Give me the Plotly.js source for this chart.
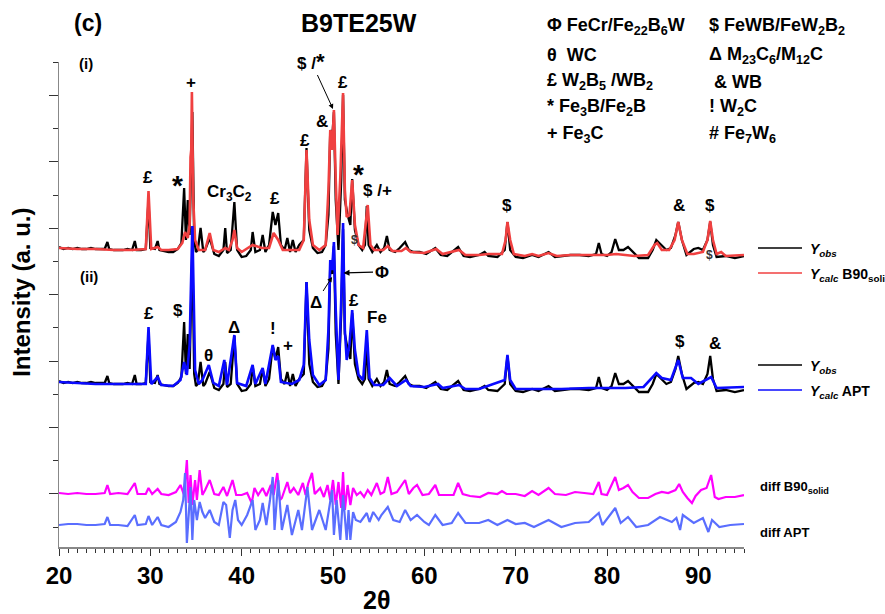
<!DOCTYPE html>
<html>
<head>
<meta charset="utf-8">
<script src="https://cdn.plot.ly/plotly-3.0.1.min.js"></script>
<style>html,body{margin:0;padding:0;background:#fff}#chart{width:885px;height:614px}</style>
</head>
<body>
<div id="chart"></div>
<script>
// ---------------- DATA (2θ in degrees, intensities in arbitrary units) ----------------
// Observed pattern Y_obs (same measurement is shown in panels (i) and (ii))
const obsTheta = [20.0,20.5,21.0,21.5,22.0,22.5,23.0,23.5,24.0,24.5,25.0,25.3,25.5,26.0,26.5,27.0,27.5,28.0,28.3,28.5,29.0,29.5,29.8,30.0,30.5,30.8,31.0,31.5,32.0,32.5,33.0,33.4,33.7,33.9,34.1,34.3,34.6,34.8,35.0,35.2,35.5,35.8,36.0,36.5,37.0,37.5,38.0,38.2,38.4,38.8,39.2,39.5,40.0,40.5,41.0,41.2,41.5,42.0,42.3,42.6,43.0,43.4,43.7,44.0,44.3,44.7,45.0,45.3,45.6,45.9,46.3,46.8,47.1,47.4,47.8,48.3,48.8,49.2,49.5,49.7,49.9,50.1,50.3,50.6,50.9,51.1,51.3,51.6,51.9,52.1,52.4,52.8,53.2,53.5,53.7,53.9,54.3,54.8,55.2,55.6,55.9,56.2,56.8,57.3,57.9,58.3,58.8,59.5,60.2,61.2,61.8,62.5,63.7,64.3,65.0,66.0,66.6,67.0,68.0,68.8,69.1,69.4,70.0,70.8,71.8,72.5,73.6,74.3,75.0,76.0,77.0,78.0,78.8,79.1,79.4,80.0,80.5,80.9,81.3,81.8,82.3,82.8,83.5,84.5,85.0,85.4,86.0,86.5,87.0,87.5,87.8,88.2,88.7,89.5,90.0,90.5,91.0,91.3,91.6,92.0,93.0,94.0,95.0];
const obsInt   = [16,14,15,14,15,14,14,15,14,14,14,21,14,13,13,13,14,13,22,13,13,14,63,15,14,22,13,12,11,11,14,20,75,23,63,28,151,23,11,13,35,11,13,25,9,7,13,35,10,13,61,13,6,7,13,31,11,13,28,11,18,51,38,50,18,13,25,11,23,11,18,23,115,33,15,10,11,18,48,133,123,151,63,13,83,168,63,48,38,84,33,18,13,18,57,18,11,18,11,15,27,13,11,15,21,13,11,11,9,15,8,7,16,7,6,8,11,7,6,13,41,13,6,5,8,6,11,6,7,8,8,7,9,20,9,7,11,24,13,13,16,11,5,5,13,23,18,13,15,28,41,23,8,14,15,13,23,41,18,6,7,5,7];

// Calculated pattern Y_calc, B90 solid model (panel i)
const b90Theta = [20.0,22.0,24.0,26.0,28.0,29.5,29.8,30.1,30.8,31.2,32.0,33.0,33.5,33.8,34.1,34.3,34.4,34.48,34.55,34.7,34.9,35.3,36.0,36.5,36.9,37.5,38.2,38.6,39.0,39.2,39.5,40.0,41.2,42.2,43.0,43.5,44.0,44.5,45.5,46.3,46.8,47.1,47.4,47.8,48.5,49.2,49.5,49.7,49.9,50.1,50.3,50.5,50.8,51.1,51.3,51.5,51.8,52.1,52.4,52.8,53.3,53.8,54.1,54.5,55.5,56.0,56.5,57.5,58.0,58.5,60.0,61.3,62.0,63.8,64.5,66.0,67.0,68.5,68.9,69.1,69.4,69.8,71.0,71.8,72.5,73.6,74.5,76.0,78.0,80.0,81.0,83.0,84.5,85.2,85.5,86.0,86.8,87.4,87.8,88.2,88.8,89.5,90.5,91.0,91.3,91.6,92.0,92.5,93.0,95.0];
const b90Int   = [15,14,14,13,13,14,72,14,16,13,13,14,20,31,25,38,106,113,171,63,23,13,13,30,13,11,15,13,23,33,15,11,18,15,15,30,23,13,13,13,23,113,43,18,13,18,73,133,113,153,83,28,86,170,73,46,48,83,38,18,15,58,18,13,13,17,12,12,15,11,10,14,9,13,8,8,9,9,23,41,23,9,7,9,7,10,7,8,8,8,9,7,8,18,20,13,13,23,41,23,9,9,11,23,42,23,9,11,7,8];

// Calculated pattern Y_calc, APT model (panel ii)
const aptTheta = [20.0,22.0,24.0,26.0,28.0,29.5,29.8,30.1,30.8,31.2,32.5,33.3,33.7,34.0,34.3,34.6,34.9,35.3,35.7,36.4,36.9,37.5,38.1,38.4,39.2,39.5,40.5,41.2,41.5,42.3,42.6,43.4,43.7,44.0,44.3,45.5,46.3,46.8,47.1,47.4,47.8,48.5,49.2,49.5,49.7,49.9,50.1,50.3,50.6,50.9,51.1,51.3,51.5,51.8,52.1,52.4,52.8,53.3,53.7,54.0,54.5,55.5,56.2,57.0,58.0,58.5,60.0,61.5,62.0,63.8,64.5,66.0,68.8,69.1,69.4,70.0,72.0,75.0,78.0,80.0,82.0,84.0,85.4,86.0,87.0,87.8,88.3,89.2,90.0,91.4,92.0,95.0];
const aptInt   = [15,14,13,13,13,13,70,13,20,12,11,17,35,22,52,171,27,13,17,32,14,11,37,12,62,14,11,32,13,29,13,52,37,41,15,13,17,32,115,57,22,12,17,67,137,127,155,87,17,97,174,67,37,52,87,47,22,17,67,19,12,12,19,11,17,11,10,13,9,12,8,8,17,42,17,8,8,8,9,9,9,10,24,19,17,37,19,19,13,20,9,10];

// Difference curve Y_obs - Y_calc (B90 solid)
const diffB90Theta = [20.0,21.0,22.0,23.0,24.0,25.0,25.3,25.6,26.5,27.5,28.3,28.6,29.5,29.8,30.2,30.8,31.2,32.0,32.8,33.3,33.7,34.0,34.2,34.4,34.6,34.9,35.1,35.4,35.7,36.0,36.5,37.0,37.5,38.0,38.4,39.0,39.4,40.0,40.6,41.1,41.4,41.8,42.3,42.7,43.2,43.5,43.9,44.2,44.4,45.0,45.3,45.7,46.2,46.7,47.0,47.3,47.7,48.0,48.6,49.0,49.4,49.7,50.0,50.3,50.6,50.9,51.1,51.3,51.6,51.9,52.2,52.6,53.0,53.4,53.8,54.2,54.8,55.2,55.6,56.0,56.4,57.0,57.9,58.3,58.8,59.2,59.8,60.5,61.2,61.6,62.5,63.2,63.7,64.2,65.0,66.1,67.0,68.0,68.5,69.0,70.0,71.0,71.8,72.5,73.6,74.3,75.5,76.5,77.5,78.5,79.1,79.4,80.0,80.9,81.3,81.8,82.3,82.8,83.5,84.5,85.3,86.0,86.7,87.5,87.9,88.3,88.8,89.3,89.7,90.3,90.9,91.4,91.8,92.2,93.0,94.0,95.0];
const diffB90  = [0,-1,0,-1,-1,0,8,-1,0,-1,10,-1,-1,5,-1,4,-1,-2,1,8,-2,33,-10,18,-12,13,-7,23,-2,3,13,-1,-2,6,-3,13,-2,-2,0,-10,5,-2,5,-3,8,-2,20,-7,-5,11,0,5,-2,10,-2,10,20,-1,5,-4,8,-7,13,-12,11,-15,21,-17,8,-12,5,-2,1,-4,3,-2,10,-1,1,16,-1,1,13,-1,5,8,-2,-1,8,-2,-2,-2,10,-1,-3,-4,0,-1,2,-1,-1,-3,2,-2,5,-1,-2,1,0,-1,11,-1,-2,16,3,5,8,1,-5,-5,-1,1,0,3,9,1,-5,-10,-3,3,5,18,-4,-6,-4,-4,-2];

// Difference curve Y_obs - Y_calc (APT)
const diffAptTheta = [20.0,21.0,22.0,23.0,24.0,25.0,25.3,25.6,26.5,27.5,28.3,28.6,29.5,29.8,30.2,30.8,31.2,32.0,32.8,33.3,33.6,33.8,34.0,34.2,34.4,34.6,34.8,35.1,35.4,35.7,36.0,36.5,37.0,37.5,38.0,38.3,38.7,39.0,39.3,39.6,40.0,40.6,41.2,41.5,42.0,42.3,42.7,43.1,43.4,43.6,44.0,44.4,45.0,45.5,46.2,46.6,47.0,47.2,47.7,48.1,48.5,49.2,49.5,49.9,50.1,50.4,50.8,51.1,51.5,51.7,51.9,52.2,52.5,53.0,53.7,54.0,54.4,55.0,55.3,56.0,56.6,57.3,57.9,58.5,59.2,60.0,60.5,61.2,62.0,63.0,63.7,64.5,66.0,67.0,68.0,69.1,70.0,71.0,72.0,73.6,75.0,76.5,78.0,79.1,79.5,80.9,81.5,82.3,83.2,84.5,85.8,86.5,87.1,87.6,88.0,88.3,89.5,90.5,91.1,91.5,92.3,93.5,95.0];
const diffApt  = [0,1,1,0,0,1,8,0,0,-1,10,0,1,9,0,8,0,-2,3,13,25,52,-18,15,38,-15,25,5,23,13,7,15,3,0,23,20,-13,15,25,5,0,10,25,-5,5,22,0,25,48,-5,45,-5,20,-10,15,-5,22,38,-5,5,15,-5,13,35,-10,25,-15,30,-15,15,-15,13,5,3,12,3,13,5,10,18,5,3,15,5,10,3,0,10,0,2,12,2,2,5,0,5,1,2,-2,5,-2,2,3,12,0,17,2,8,-2,0,8,5,3,7,-5,10,2,7,-7,5,-2,0,1];

// Text content
const phaseKeyLeft  = ['Φ FeCr/Fe<sub>22</sub>B<sub>6</sub>W', 'θ  WC', '£ W<sub>2</sub>B<sub>5</sub> /WB<sub>2</sub>', '* Fe<sub>3</sub>B/Fe<sub>2</sub>B', '+ Fe<sub>3</sub>C'];
const phaseKeyRight = ['$ FeWB/FeW<sub>2</sub>B<sub>2</sub>', 'Δ M<sub>23</sub>C<sub>6</sub>/M<sub>12</sub>C', ' & WB', '! W<sub>2</sub>C', '# Fe<sub>7</sub>W<sub>6</sub>'];
// peak markers: [label, 2θ, height level]
const peaksI  = [['£',29.75,350],['*',33.0,342],['+',34.45,445],['Cr<sub>3</sub>C<sub>2</sub>',38.7,334],['£',43.65,329],['£',46.93,387],['&',48.8,406],['£',51.1,445],['*',52.75,353],['$ /+',54.9,337],['$',69.05,322],['&',87.9,322],['$',91.3,322]];
const peaksII = [['£',29.85,214],['$',33.0,217],['θ',36.4,172],['Δ',39.15,200],['!',43.4,199],['+',45.1,182],['£',52.3,227],['Fe',54.8,210],['$',88.0,186],['&',91.8,184]];

// ---------------- PRESENTATION ----------------
const OFF_I = 264, OFF_II = 130, OFF_DB90 = 34, OFF_DAPT = 2;
const FONT = 'Liberation Sans, Arial, sans-serif';
const shift = (arr, d) => arr.map(v => v + d);
const star = (s, px) => s.replace(/\*/g, '<span style="font-size:' + (px || 28) + 'px">*</span>');

const traces = [
  {x: obsTheta, y: shift(obsInt, OFF_I), mode: 'lines', line: {color: '#000000', width: 2.3}},
  {x: b90Theta, y: shift(b90Int, OFF_I), mode: 'lines', line: {color: '#f04040', width: 2.6}},
  {x: obsTheta, y: shift(obsInt, OFF_II), mode: 'lines', line: {color: '#000000', width: 2.3}},
  {x: aptTheta, y: shift(aptInt, OFF_II), mode: 'lines', line: {color: '#0a0aff', width: 2.6}},
  {x: diffB90Theta, y: shift(diffB90, OFF_DB90), mode: 'lines', line: {color: '#ff00ff', width: 2.2}},
  {x: diffAptTheta, y: shift(diffApt, OFF_DAPT), mode: 'lines', line: {color: '#5a6eff', width: 2.2}}
];

const ann = [];
const bold = (s, c) => ({family: FONT, size: s, color: c || '#000', weight: 'bold'});
const A = o => Object.assign({showarrow: false, xanchor: 'center', yanchor: 'middle'}, o);
peaksI.concat(peaksII).forEach(p => ann.push(A({x: p[1], y: p[2], xref: 'x', yref: 'y', text: star(p[0]), font: bold(17)})));
// small residual markers
ann.push(A({x: 52.4, y: 287, xref: 'x', yref: 'y', text: '$', font: bold(12, '#333')}));
ann.push(A({x: 91.2, y: 272, xref: 'x', yref: 'y', text: '$', font: bold(12, '#333')}));
// arrowed labels
ann.push(A({x: 50.0, y: 418, xref: 'x', yref: 'y', text: star('$ /*', 22), showarrow: true, ax: -22, ay: -48, arrowhead: 2, arrowsize: 1, arrowwidth: 1, arrowcolor: '#000', font: bold(17)}));
ann.push(A({x: 49.9, y: 250, xref: 'x', yref: 'y', text: 'Δ', showarrow: true, ax: -16, ay: 25, arrowhead: 2, arrowsize: 1, arrowwidth: 1, arrowcolor: '#000', font: bold(17)}));
ann.push(A({x: 51.15, y: 254, xref: 'x', yref: 'y', text: 'Φ', showarrow: true, ax: 38, ay: -1, arrowhead: 2, arrowsize: 1, arrowwidth: 1.2, arrowcolor: '#000', font: bold(17)}));
// panel labels
ann.push(A({x: 23.0, y: 464, xref: 'x', yref: 'y', text: '(i)', font: bold(15)}));
ann.push(A({x: 23.3, y: 251, xref: 'x', yref: 'y', text: '(ii)', font: bold(15)}));
// titles
ann.push(A({x: 0.0423, y: 1.081, xref: 'paper', yref: 'paper', text: '(c)', font: bold(23)}));
ann.push(A({x: 0.438, y: 1.081, xref: 'paper', yref: 'paper', text: 'B9TE25W', font: bold(25)}));
ann.push(A({x: -0.054, y: 0.524, xref: 'paper', yref: 'paper', text: 'Intensity (a. u.)', textangle: -90, font: bold(24)}));
ann.push(A({x: 0.463, y: -0.109, xref: 'paper', yref: 'paper', text: '2θ', font: bold(25)}));
// phase key
const rowsY = [1.074, 1.0144, 0.9588, 0.9052, 0.8495];
phaseKeyLeft.forEach((t, i) => ann.push(A({x: 0.7095, y: rowsY[i], xref: 'paper', yref: 'paper', xanchor: 'left', text: t, font: bold(18)})));
phaseKeyRight.forEach((t, i) => ann.push(A({x: 0.946, y: rowsY[i], xref: 'paper', yref: 'paper', xanchor: 'left', text: t, font: bold(18)})));
// series key
const keyRows = [
  ['<i>Y</i><sub><i>obs</i></sub>', 0.6124, '#000'],
  ['<i>Y</i><sub><i>calc</i></sub> B90<sub>solid</sub>', 0.5608, '#f04040'],
  ['<i>Y</i><sub><i>obs</i></sub>', 0.3711, '#000'],
  ['<i>Y</i><sub><i>calc</i></sub> APT', 0.3196, '#0a0aff']
];
const shapes = [];
keyRows.forEach(r => {
  ann.push(A({x: 1.0934, y: r[1], xref: 'paper', yref: 'paper', xanchor: 'left', text: r[0], font: bold(14)}));
  shapes.push({type: 'line', xref: 'paper', yref: 'paper', x0: 1.0204, x1: 1.0847, y0: r[1] + 0.004, y1: r[1] + 0.004, line: {color: r[2], width: 1.5}});
});
ann.push(A({x: 1.0204, y: 0.1237, xref: 'paper', yref: 'paper', xanchor: 'left', text: 'diff B90<sub>solid</sub>', font: bold(13)}));
ann.push(A({x: 1.0204, y: 0.0309, xref: 'paper', yref: 'paper', xanchor: 'left', text: 'diff APT', font: bold(13)}));

const layout = {
  width: 885, height: 614,
  margin: {l: 59, r: 141, t: 62, b: 67},
  paper_bgcolor: '#fff', plot_bgcolor: '#fff',
  showlegend: false,
  xaxis: {
    range: [20, 95], dtick: 10, tick0: 20, ticks: 'outside', ticklen: 7, tickwidth: 1, tickcolor: '#333',
    showgrid: false, zeroline: false, showline: true, linecolor: '#888', linewidth: 1.5,
    tickfont: bold(24), ticklabelstandoff: 0,
    minor: {dtick: 1, ticks: 'outside', ticklen: 4, tickwidth: 1, tickcolor: '#333'}
  },
  yaxis: {
    range: [-20, 465], tick0: 33.2, dtick: 66.4, ticks: 'outside', ticklen: 9, tickwidth: 1, tickcolor: '#333',
    showticklabels: false, showgrid: false, zeroline: false, showline: true, linecolor: '#888', linewidth: 1.5,
    minor: {tick0: 0, dtick: 33.2, ticks: 'outside', ticklen: 5, tickwidth: 1, tickcolor: '#333'}
  },
  annotations: ann,
  shapes: shapes
};

Plotly.newPlot('chart', traces, layout, {displayModeBar: false, staticPlot: true});
</script>
</body>
</html>
